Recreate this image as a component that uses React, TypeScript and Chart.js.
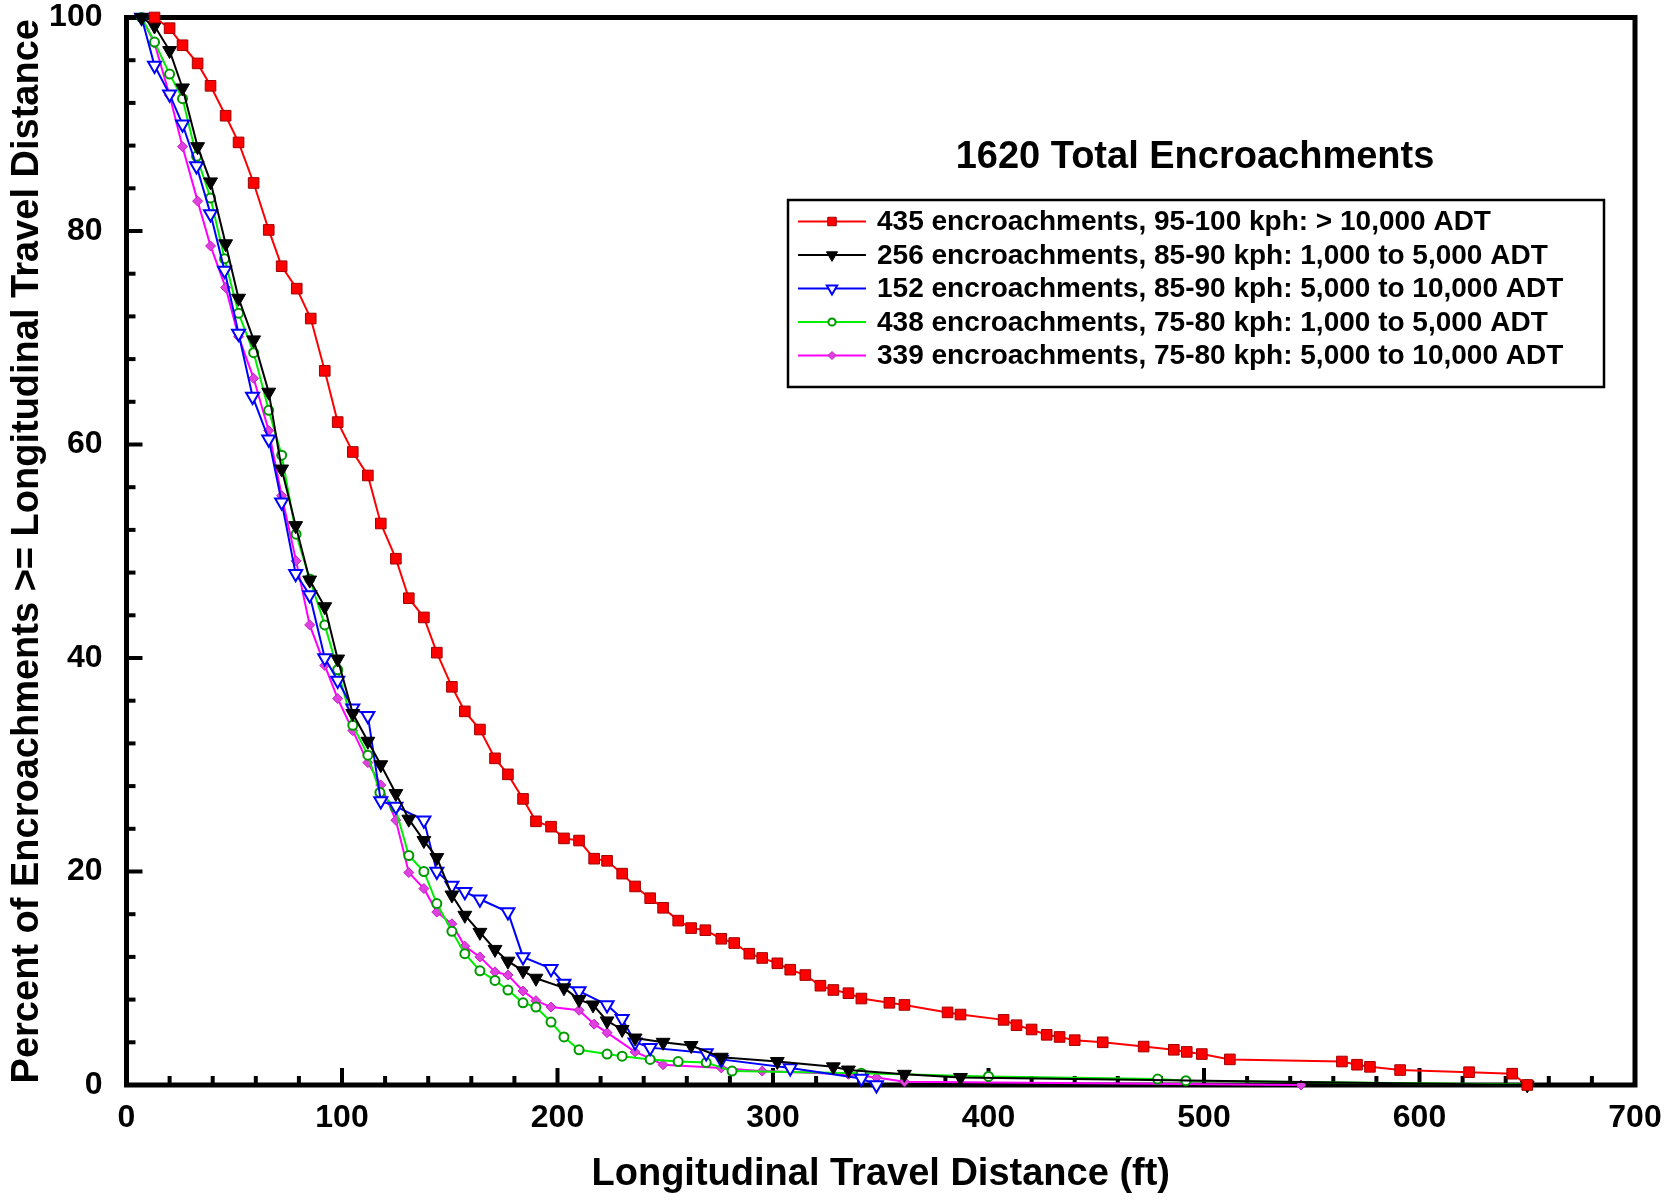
import React, { useEffect, useRef } from "react";
import { Chart, registerables } from "chart.js";

Chart.register(...registerables);

const FONT = '"Liberation Sans", Arial, Helvetica, sans-serif';

const chartTitle = "1620 Total Encroachments";
const xAxisTitle = "Longitudinal Travel Distance (ft)";
const yAxisTitle = "Percent of Encroachments >= Longitudinal Travel Distance";

const seriesLabels = [
  "435 encroachments, 95-100 kph: > 10,000 ADT",
  "256 encroachments, 85-90 kph: 1,000 to 5,000 ADT",
  "152 encroachments, 85-90 kph: 5,000 to 10,000 ADT",
  "438 encroachments, 75-80 kph: 1,000 to 5,000 ADT",
  "339 encroachments, 75-80 kph: 5,000 to 10,000 ADT",
];

// [distance ft, percent]
const red: [number, number][] = [
  [13, 100], [20, 99.0], [26, 97.4], [33, 95.7], [39, 93.6], [46, 90.8], [52, 88.3], [59, 84.5],
  [66, 80.1], [72, 76.7], [79, 74.6], [85.5, 71.8], [92, 66.9], [98, 62.1], [105, 59.3], [112, 57.1],
  [118, 52.6], [125, 49.3], [131, 45.6], [138, 43.8], [144, 40.5], [151, 37.3], [157, 35.0], [164, 33.3],
  [171, 30.6], [177, 29.1], [184, 26.8], [190, 24.7], [197, 24.2], [203, 23.1], [210, 22.9], [217, 21.2],
  [223, 21.0], [230, 19.8], [236, 18.6], [243, 17.5], [249, 16.6], [256, 15.4], [262, 14.7], [268.6, 14.5],
  [276, 13.7], [282, 13.3], [289, 12.3], [295, 11.9], [302, 11.4], [308, 10.8], [315, 10.3], [322, 9.3],
  [328, 8.9], [335, 8.6], [341, 8.1], [354, 7.7], [361, 7.5], [381, 6.8], [387, 6.6], [407, 6.1],
  [413, 5.6], [420, 5.2], [427, 4.7], [433, 4.5], [440, 4.2], [453, 4.0], [472, 3.6], [486, 3.3],
  [492, 3.1], [499, 2.9], [512, 2.4], [564, 2.2], [571, 1.9], [577, 1.7], [591, 1.4], [623, 1.2],
  [643, 1.06], [650, 0],
];

const black: [number, number][] = [
  [7, 100], [13, 99.2], [20, 96.9], [26, 93.4], [33, 87.9], [39, 84.6], [46, 78.8], [52, 73.7],
  [59, 69.8], [66, 64.9], [72, 57.7], [78.5, 52.4], [85, 47.3], [92, 44.8], [98, 39.9], [105, 34.8],
  [112, 32.2], [118, 30.0], [125, 27.3], [131, 24.9], [138, 22.9], [144, 21.3], [151, 17.8], [157, 15.9],
  [164, 14.3], [171, 12.7], [177, 11.6], [184, 10.7], [190, 10.0], [203, 9.1], [210, 8.0], [216.5, 7.5],
  [223, 6.0], [230, 5.2], [236, 4.4], [249, 4.0], [262, 3.7], [276, 2.6], [302, 2.2], [328, 1.7],
  [335, 1.4], [361, 1.0], [387, 0.7], [650, 0],
];

const blue: [number, number][] = [
  [7, 100], [13, 95.5], [20, 92.8], [26, 90.0], [32.5, 86.1], [39, 81.6], [45.5, 76.3], [52, 70.4],
  [58.5, 64.5], [66, 60.5], [72, 54.6], [78.5, 47.9], [85, 45.9], [92, 40.0], [98, 37.9], [105, 35.3],
  [112, 34.6], [118, 26.6], [125, 26.1], [138, 24.8], [144, 20.0], [151, 18.7], [157, 18.1], [164, 17.4],
  [177, 16.2], [184, 12.0], [197, 10.9], [203, 9.5], [210, 8.8], [223, 7.5], [230, 6.2], [236, 4.0],
  [243, 3.5], [269, 3.0], [276, 2.4], [308, 1.6], [341, 0.6], [348, 0],
];

const green: [number, number][] = [
  [7, 100], [13, 97.7], [20, 94.7], [26, 92.4], [32.5, 87.0], [39, 83.1], [45.5, 77.4], [52, 72.3],
  [59, 68.6], [66, 63.2], [72, 59.0], [78.7, 51.6], [85, 47.4], [92, 43.1], [98, 38.9], [105, 33.7],
  [112, 30.9], [117.6, 27.4], [124.7, 26.0], [131, 21.5], [138, 20.0], [144, 17.0], [151, 14.4], [157, 12.3],
  [164, 10.7], [171, 9.8], [177, 8.9], [184, 7.7], [190, 7.3], [197, 5.9], [203, 4.5], [210, 3.3],
  [223, 2.9], [230, 2.7], [243, 2.4], [256, 2.2], [269, 2.1], [281, 1.3], [341, 1.1], [400, 0.8],
  [478.5, 0.56], [491.6, 0.4], [650, 0.05],
];

const magenta: [number, number][] = [
  [7, 100], [13, 97.6], [20, 92.7], [26, 87.9], [33, 82.8], [39, 78.6], [46, 74.7], [52, 70.1],
  [59, 66.2], [66, 61.3], [72, 55.2], [78.7, 49.1], [85, 43.1], [92, 39.3], [98, 36.2], [105, 33.2],
  [112, 30.2], [118, 28.1], [125, 24.8], [131, 19.9], [138, 18.4], [144, 16.2], [151, 15.1], [157, 13.0],
  [164, 12.0], [171, 10.6], [177, 10.3], [184, 8.8], [190, 7.9], [197, 7.3], [210, 7.0], [217, 5.7],
  [223, 4.9], [236, 3.1], [243, 2.5], [249, 1.9], [276, 1.6], [295, 1.3], [335, 1.0], [348, 0.7],
  [361, 0.3], [545, 0],
];

const toXY = (pts: [number, number][]) => pts.map(([x, y]) => ({ x, y }));

function drawMarker(
  ctx: CanvasRenderingContext2D,
  style: string,
  x: number,
  y: number,
  r: number,
  rotation: number,
  fill: string,
  stroke: string,
  bw: number
) {
  ctx.save();
  ctx.translate(x, y);
  ctx.rotate(((rotation || 0) * Math.PI) / 180);
  ctx.beginPath();
  if (style === "rect") {
    const s = r * Math.SQRT1_2;
    ctx.rect(-s, -s, 2 * s, 2 * s);
  } else if (style === "triangle") {
    let a = 0;
    ctx.moveTo(Math.sin(a) * r, -Math.cos(a) * r);
    a += (2 * Math.PI) / 3;
    ctx.lineTo(Math.sin(a) * r, -Math.cos(a) * r);
    a += (2 * Math.PI) / 3;
    ctx.lineTo(Math.sin(a) * r, -Math.cos(a) * r);
    ctx.closePath();
  } else if (style === "rectRot") {
    ctx.moveTo(-r, 0);
    ctx.lineTo(0, -r);
    ctx.lineTo(r, 0);
    ctx.lineTo(0, r);
    ctx.closePath();
  } else {
    ctx.arc(0, 0, r, 0, Math.PI * 2);
  }
  ctx.fillStyle = fill;
  ctx.fill();
  if (bw > 0) {
    ctx.lineWidth = bw;
    ctx.strokeStyle = stroke;
    ctx.stroke();
  }
  ctx.restore();
}

const framePlugin = {
  id: "frameTicks",
  beforeDatasetsDraw(chart: any) {
    const { ctx, chartArea: a, scales } = chart;
    const xs = scales.x;
    const ys = scales.y;
    ctx.save();
    ctx.strokeStyle = "#000";
    ctx.lineWidth = 4;
    ctx.lineCap = "butt";
    for (let v = 4; v < 100; v += 4) {
      const py = ys.getPixelForValue(v);
      const len = v % 20 === 0 ? 16 : 9;
      ctx.beginPath();
      ctx.moveTo(a.left, py);
      ctx.lineTo(a.left + len, py);
      ctx.stroke();
    }
    for (let v = 20; v < 700; v += 20) {
      const px = xs.getPixelForValue(v);
      const len = v % 100 === 0 ? 17 : 9;
      ctx.beginPath();
      ctx.moveTo(px, a.bottom);
      ctx.lineTo(px, a.bottom - len);
      ctx.stroke();
    }
    ctx.lineWidth = 5;
    ctx.strokeRect(a.left, a.top, a.right - a.left, a.bottom - a.top);
    ctx.restore();
  },
};

const legendPlugin = {
  id: "boxLegend",
  afterDatasetsDraw(chart: any) {
    const ctx: CanvasRenderingContext2D = chart.ctx;
    ctx.save();
    ctx.fillStyle = "#000";
    ctx.font = `bold 38px ${FONT}`;
    ctx.textAlign = "center";
    ctx.textBaseline = "middle";
    ctx.fillText(chartTitle, 1195, 158);

    const bx = 788, by = 200, bw = 816, bh = 187;
    ctx.fillStyle = "#fff";
    ctx.fillRect(bx, by, bw, bh);
    ctx.lineWidth = 2.5;
    ctx.strokeStyle = "#000";
    ctx.strokeRect(bx, by, bw, bh);

    chart.data.datasets.forEach((ds: any, i: number) => {
      const cy = 221.5 + i * 33.5;
      ctx.strokeStyle = ds.borderColor;
      ctx.lineWidth = 2;
      ctx.beginPath();
      ctx.moveTo(798, cy);
      ctx.lineTo(866, cy);
      ctx.stroke();
      drawMarker(
        ctx,
        ds.pointStyle,
        832,
        cy,
        ds.pointRadius * 0.8,
        ds.pointRotation || 0,
        ds.pointBackgroundColor,
        ds.pointBorderColor,
        ds.pointBorderWidth
      );
      ctx.fillStyle = "#000";
      ctx.font = `bold 28px ${FONT}`;
      ctx.textAlign = "left";
      ctx.textBaseline = "middle";
      ctx.fillText(ds.label, 877, cy + 1);
    });
    ctx.restore();
  },
};

export default function App() {
  const canvasRef = useRef<HTMLCanvasElement | null>(null);

  useEffect(() => {
    document.body.style.margin = "0";
    document.body.style.overflow = "hidden";
    const canvas = canvasRef.current;
    if (!canvas) return;

    const common = { borderWidth: 2, tension: 0, fill: false };

    const chart = new Chart(canvas, {
      type: "line",
      data: {
        datasets: [
          {
            ...common,
            label: seriesLabels[0],
            data: toXY(red),
            borderColor: "#ff0000",
            pointStyle: "rect",
            pointRadius: 7.5,
            pointBackgroundColor: "#ff0000",
            pointBorderColor: "#a00000",
            pointBorderWidth: 1,
          },
          {
            ...common,
            label: seriesLabels[1],
            data: toXY(black),
            borderColor: "#000000",
            pointStyle: "triangle",
            pointRotation: 180,
            pointRadius: 8,
            pointBackgroundColor: "#000000",
            pointBorderColor: "#000000",
            pointBorderWidth: 1,
          },
          {
            ...common,
            label: seriesLabels[2],
            data: toXY(blue),
            borderColor: "#0000ff",
            pointStyle: "triangle",
            pointRotation: 180,
            pointRadius: 7.5,
            pointBackgroundColor: "#ffffff",
            pointBorderColor: "#0000ff",
            pointBorderWidth: 2,
          },
          {
            ...common,
            label: seriesLabels[3],
            data: toXY(green),
            borderColor: "#00ee00",
            pointStyle: "circle",
            pointRadius: 4.5,
            pointBackgroundColor: "#ffffff",
            pointBorderColor: "#009900",
            pointBorderWidth: 2,
          },
          {
            ...common,
            label: seriesLabels[4],
            data: toXY(magenta),
            borderColor: "#ff00ff",
            pointStyle: "rectRot",
            pointRadius: 5,
            pointBackgroundColor: "#e040e0",
            pointBorderColor: "#c020c0",
            pointBorderWidth: 1,
          },
        ] as any,
      },
      options: {
        animation: false,
        responsive: false,
        events: [],
        clip: false as any,
        layout: { padding: { top: 17.5, right: 34, bottom: 0, left: 0 } },
        plugins: {
          legend: { display: false },
          title: { display: false },
          tooltip: { enabled: false },
        },
        scales: {
          x: {
            type: "linear",
            min: 0,
            max: 700,
            afterFit: (s: any) => {
              s.height = 116;
              s.paddingLeft = 0;
              s.paddingRight = 0;
            },
            grid: { display: false, drawTicks: false },
            border: { display: false },
            ticks: {
              stepSize: 100,
              autoSkip: false,
              maxRotation: 0,
              padding: 14,
              color: "#000",
              font: { family: FONT, size: 32, weight: "bold" },
            },
            title: {
              display: true,
              text: xAxisTitle,
              color: "#000",
              font: { family: FONT, size: 38, weight: "bold" },
              padding: { top: 0, bottom: 4 },
            },
          },
          y: {
            type: "linear",
            min: 0,
            max: 100,
            afterFit: (s: any) => {
              s.width = 126.5;
              s.paddingTop = 0;
              s.paddingBottom = 0;
            },
            grid: { display: false, drawTicks: false },
            border: { display: false },
            ticks: {
              stepSize: 20,
              autoSkip: false,
              padding: 24,
              color: "#000",
              font: { family: FONT, size: 32, weight: "bold" },
            },
            title: {
              display: true,
              text: yAxisTitle,
              color: "#000",
              font: { family: FONT, size: 38, weight: "bold" },
              padding: { top: 5, bottom: 0 },
            },
          },
        },
      } as any,
      plugins: [framePlugin, legendPlugin],
    });

    return () => chart.destroy();
  }, []);

  return (
    <canvas
      ref={canvasRef}
      width={1669}
      height={1201}
      style={{ display: "block", width: 1669, height: 1201 }}
    />
  );
}
